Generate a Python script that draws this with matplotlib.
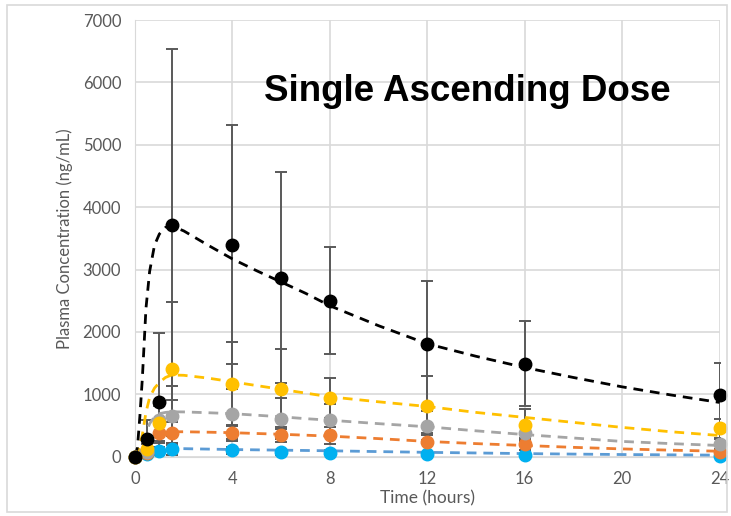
import matplotlib.pyplot as plt
from matplotlib.patches import Rectangle

plt.rcParams['font.family'] = ['Lato', 'DejaVu Sans']

# sampled times
t_obs = [0, 0.5, 1, 1.5, 4, 6, 8, 12, 16, 24]

# observed means (ng/mL) per dose group
obs_black = [0, 280, 885, 3720, 3400, 2870, 2500, 1810, 1490, 990]
obs_yellow = [0, 120, 547, 1405, 1167, 1088, 938, 815, 514, 456]
obs_gray = [0, 80, 590, 660, 687, 606, 590, 498, 376, 200]
obs_orange = [0, 60, 376, 386, 376, 354, 344, 231, 204, 80]
obs_blue = [0, 45, 92, 120, 100, 70, 64, 38, 27, 15]

# standard deviations
sd_black = [0, 310, 1100, 2816, 1910, 1690, 860, 1005, 680, 520]
sd_yellow = [0, 80, 300, 1070, 666, 643, 322, 471, 253, 150]
sd_gray = [0, 50, 230, 477, 403, 330, 260, 230, 130, 90]
sd_orange = [0, 40, 150, 170, 120, 120, 140, 150, 90, 40]
sd_blue = [0, 20, 60, 100, 60, 40, 40, 30, 20, 10]

# fitted model curves
t_fit = [0, 0.1, 0.2, 0.3, 0.45, 0.6, 0.8, 1.0, 1.25, 1.5, 2, 3, 4, 5, 6, 7,
         8, 10, 12, 14, 16, 18, 20, 22, 24]
fit_black = [0, 150, 650, 1250, 2380, 2970, 3390, 3570, 3675, 3700, 3620,
             3390, 3170, 2980, 2800, 2620, 2420, 2100, 1810, 1610, 1430,
             1270, 1120, 990, 870]
fit_yellow = [0, 80, 200, 350, 710, 950, 1100, 1190, 1270, 1310, 1305, 1260,
              1200, 1140, 1080, 1020, 960, 880, 805, 710, 630, 550, 470,
              400, 340]
fit_gray = [0, 40, 110, 200, 380, 530, 640, 690, 710, 720, 718, 705, 690,
            665, 640, 610, 585, 530, 480, 415, 355, 300, 245, 210, 180]
fit_orange = [0, 30, 80, 150, 260, 330, 370, 385, 395, 400, 400, 393, 385,
              372, 360, 345, 330, 290, 245, 210, 180, 150, 125, 105, 88]
fit_blue = [0, 15, 35, 60, 90, 105, 118, 125, 129, 130, 129, 122, 115, 110,
            105, 100, 95, 82, 70, 60, 50, 42, 35, 30, 25]

xticks = [0, 4, 8, 12, 16, 20, 24]
yticks = [0, 1000, 2000, 3000, 4000, 5000, 6000, 7000]

groups = [
    (obs_blue, sd_blue, fit_blue, '#00B0F0', '#5B9BD5'),
    (obs_orange, sd_orange, fit_orange, '#ED7D31', '#ED7D31'),
    (obs_gray, sd_gray, fit_gray, '#A5A5A5', '#A5A5A5'),
    (obs_yellow, sd_yellow, fit_yellow, '#FFC000', '#FFC000'),
    (obs_black, sd_black, fit_black, '#000000', '#000000'),
]

fig = plt.figure(figsize=(7.31, 5.16), dpi=100)
ax = fig.add_axes([0.1847, 0.1149, 0.7996, 0.8463])

for i, (obs, sd, fit, mcol, lcol) in enumerate(groups):
    ax.errorbar(t_obs, obs, yerr=sd, fmt='none', ecolor='#595959',
                elinewidth=1.4, capsize=4, capthick=1.4, zorder=2)
for i, (obs, sd, fit, mcol, lcol) in enumerate(groups):
    ax.plot(t_fit, fit, color=lcol, lw=2.0, ls=(0, (3.5, 2.5)), zorder=3 + i)
    ax.plot(t_obs, obs, 'o', color=mcol, ms=9, mec=mcol, zorder=10 + i,
            clip_on=False)

ax.set_xlim(0, 24)
ax.set_ylim(0, 7000)
ax.set_xticks(xticks)
ax.set_yticks(yticks)
ax.grid(True, color='#D9D9D9', lw=1.2)
ax.set_axisbelow(True)
for s in ax.spines.values():
    s.set_visible(False)
ax.spines['left'].set_visible(True)
ax.spines['left'].set_color('#D9D9D9')
ax.spines['bottom'].set_visible(True)
ax.spines['bottom'].set_color('#D9D9D9')
ax.tick_params(length=0, labelsize=12, labelcolor='#595959', pad=10)
ax.set_xlabel('Time (hours)', fontsize=12.5, color='#595959', labelpad=3)
ax.set_ylabel('Plasma Concentration (ng/mL)', fontsize=12,
              color='#595959', labelpad=7)

ax.text(0.568, 0.837, 'Single Ascending Dose', transform=ax.transAxes,
        fontsize=26.5, fontweight='bold', family=['Liberation Sans'],
        ha='center', va='center')

fig.patches.append(Rectangle((0.009, 0.008), 0.985, 0.982,
                             transform=fig.transFigure, fill=False,
                             edgecolor='#D9D9D9', lw=1.2))

fig.savefig('out.png', dpi=100)
